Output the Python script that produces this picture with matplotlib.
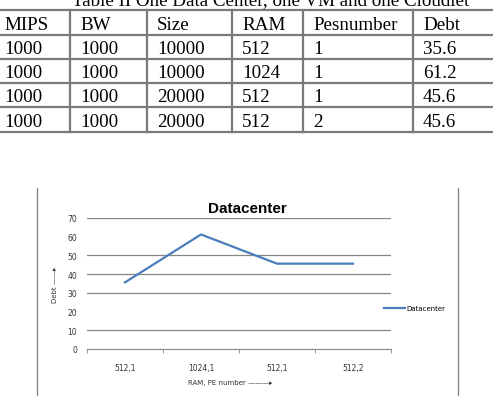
import matplotlib
matplotlib.use("Agg")
import matplotlib.pyplot as plt

# table data
table_title = "Table II One Data Center, one VM and one Cloudiet"
columns = ["MIPS", "BW", "Size", "RAM", "Pesnumber", "Debt"]
mips = ["1000", "1000", "1000", "1000"]
bw = ["1000", "1000", "1000", "1000"]
size = ["10000", "10000", "20000", "20000"]
ram = ["512", "1024", "512", "512"]
pes = ["1", "1", "1", "2"]
debt_txt = ["35.6", "61.2", "45.6", "45.6"]

# chart data
categories = ["512,1", "1024,1", "512,1", "512,2"]
debt = [35.6, 61.2, 45.6, 45.6]

W, H = 493, 406
fig = plt.figure(figsize=(W / 100, H / 100), dpi=100)
fig.patch.set_facecolor("white")

# table drawn in pixel coords on a full-figure axes
tab = fig.add_axes([0, 0, 1, 1])
tab.set_xlim(0, W)
tab.set_ylim(H, 0)
tab.axis("off")

col_edges = [0, 70, 147, 232, 303, 413, 520]
row_lines = [11, 35.5, 60, 84, 108, 133]
grey = "#7a7a7a"
for y in row_lines:
    tab.plot([0, W], [y, y], color=grey, lw=1.6, solid_capstyle="butt")
for x in col_edges[1:-1]:
    tab.plot([x, x], [row_lines[0], row_lines[-1]], color=grey, lw=1.6)

rows = [columns] + [list(r) for r in zip(mips, bw, size, ram, pes, debt_txt)]
for i, r in enumerate(rows):
    base = row_lines[i + 1] - 6
    for j, cell in enumerate(r):
        tab.text(col_edges[j] + (4 if j == 0 else 10), base, cell, family="Liberation Serif",
                 fontsize=13.7, va="baseline", ha="left", color="black")
# caption sits partly above the page edge, as in the scan
tab.text(72, 5.5, table_title, family="Liberation Serif", fontsize=13.7,
         va="baseline", ha="left", color="black", clip_on=False)

# chart frame (only the sides show)
tab.plot([37, 37], [189, 396], color="#8c8c8c", lw=1)
tab.plot([458, 458], [189, 396], color="#8c8c8c", lw=1)

# chart
ax = fig.add_axes([87 / W, 1 - 350 / H, 304 / W, 131 / H])
ax.set_facecolor("none")
x = range(len(categories))
ax.plot(x, debt, color="#4a7ebb", lw=1.6, label="Datacenter")
ax.set_xlim(-0.5, len(categories) - 0.5)
ax.set_ylim(0, 70)
ax.set_yticks(range(0, 71, 10))
ax.set_xticks(x)
ax.set_xticklabels(categories)
for sp in ["top", "right", "left"]:
    ax.spines[sp].set_visible(False)
ax.spines["bottom"].set_color("#868686")
ax.tick_params(axis="both", length=0, labelsize=5.5, colors="#333333")
ax.tick_params(axis="x", pad=10)
ax.tick_params(axis="y", pad=7)
ax.set_xticks([i - 0.5 for i in range(len(categories) + 1)], minor=True)
ax.tick_params(axis="x", which="minor", length=3, color="#868686")
for v in [10, 30, 40, 50, 70]:
    ax.axhline(v, color="#868686", lw=0.9, zorder=0)

ax.set_title("Datacenter", fontsize=11, fontweight="bold", family="Liberation Sans", pad=4, x=0.526)
ax.set_xlabel("RAM, PE number \u2014\u2014\u2014\u25B8", fontsize=5, color="#333333", labelpad=5, x=0.47)
ax.set_ylabel("Debt \u2014\u2014\u25B8", fontsize=5, color="#333333", labelpad=7)
ax.legend(loc="center left", bbox_to_anchor=(0.967, 0.31), frameon=False, fontsize=5,
          handlelength=3, handletextpad=0.2, borderaxespad=0)

fig.savefig("out.png", dpi=100)
